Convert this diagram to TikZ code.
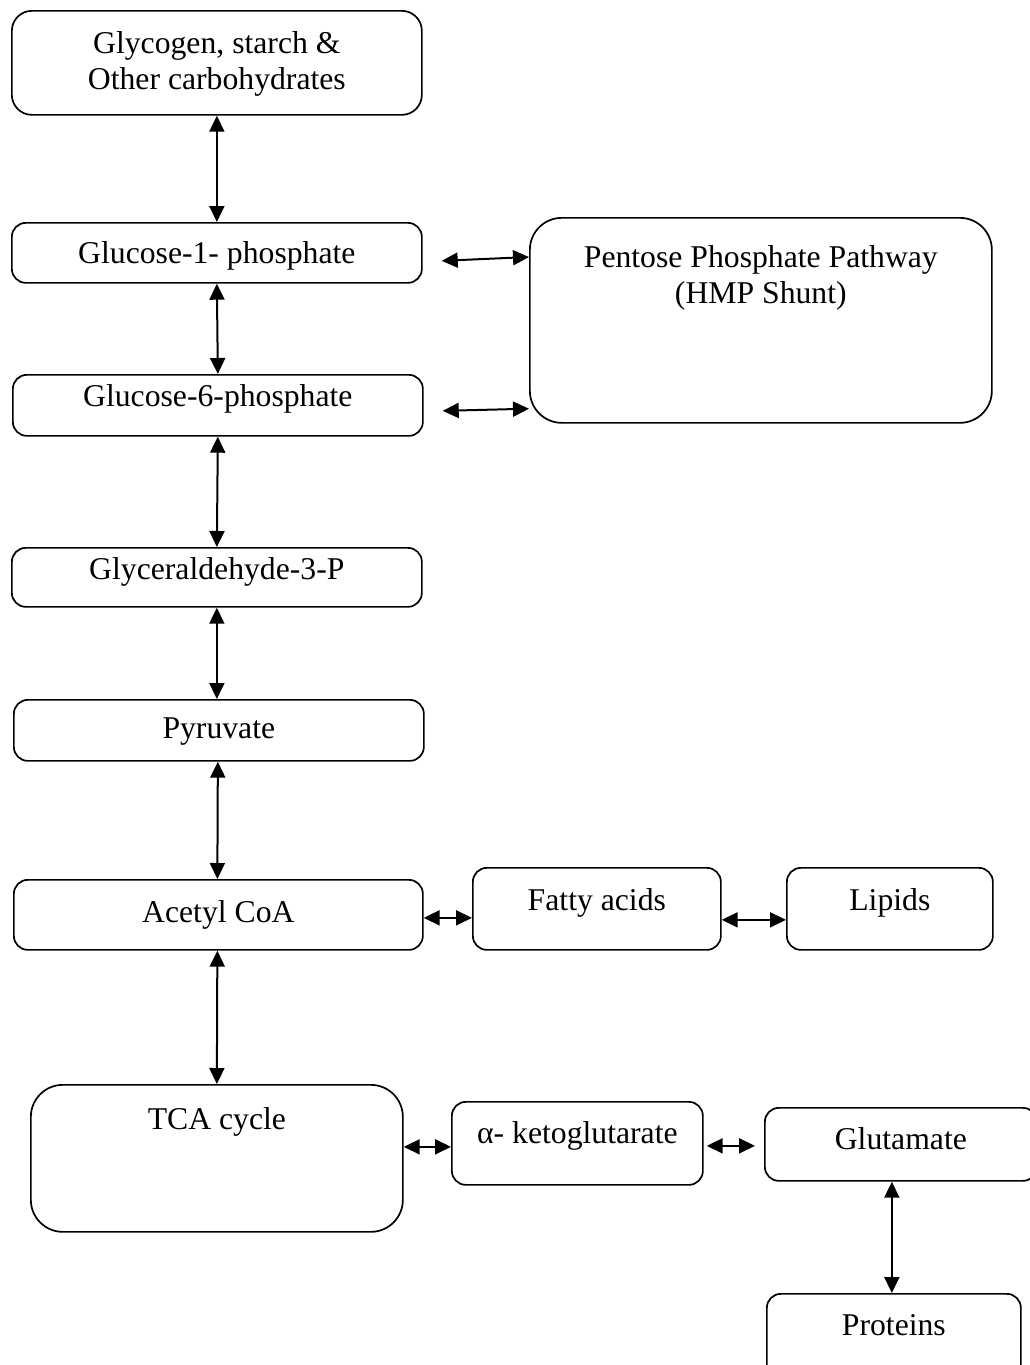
\documentclass[tikz,border=0pt]{standalone}
\usepackage{fontspec}
\setmainfont{Liberation Serif}
\usetikzlibrary{arrows.meta,calc}
\tikzset{
  box/.style={draw, line width=1.7pt, rounded corners=14pt, inner sep=0pt, anchor=north west,
    font=\fontsize{31.7}{36}\selectfont, align=center},
  bigbox/.style={box, rounded corners=32pt},
  link/.style={line width=2pt, {Triangle[length=16pt,width=15pt]}-{Triangle[length=16pt,width=15pt]}}
}
\begin{document}
\begin{tikzpicture}[x=1pt,y=-1pt]
\useasboundingbox[fill=white] (0,0) rectangle (1029,1365);
\node[box, rounded corners=20pt, minimum width=410pt, text height=79pt, text depth=25pt] (glyc) at (11,10) {Glycogen, starch \&\\Other carbohydrates};
\node[box, minimum width=410pt, text height=41pt, text depth=19pt] (g1p) at (11,222) {Glucose-1- phosphate};
\node[bigbox, minimum width=462pt, text height=86pt, text depth=119pt] (ppp) at (529,217) {Pentose Phosphate Pathway\\(HMP Shunt)};
\node[box, minimum width=410pt, text height=32pt, text depth=29pt] (g6p) at (12,374) {Glucose-6-phosphate};
\node[box, minimum width=410pt, text height=32pt, text depth=27pt] (gap) at (11,547) {Glyceraldehyde-3-P};
\node[box, minimum width=410pt, text height=39pt, text depth=22pt] (pyr) at (13,699) {Pyruvate};
\node[box, minimum width=409pt, text height=43pt, text depth=27pt] (acoa) at (13,879) {Acetyl CoA};
\node[box, minimum width=248pt, text height=43pt, text depth=39pt] (fatty) at (472,867) {Fatty acids};
\node[box, minimum width=206pt, text height=43pt, text depth=39pt] (lipids) at (786,867) {Lipids};
\node[bigbox, minimum width=372pt, text height=45pt, text depth=102pt] (tca) at (30,1084) {TCA cycle};
\node[box, minimum width=251pt, text height=42pt, text depth=41pt] (akg) at (451,1101) {α- ketoglutarate};
\node[box, minimum width=272pt, text height=42pt, text depth=31pt] (glu) at (764,1107) {Glutamate};
\node[box, minimum width=254pt, text height=42pt, text depth=65pt] (prot) at (766,1293) {Proteins};

\draw[link] (glyc.south) -- (g1p.north);
\draw[link] (g1p.south) -- (g6p.south |- g6p.north);
\draw[link] (g6p.south) -- (gap.north);
\draw[link] (gap.south) -- (gap.south |- pyr.north);
\draw[link] ($(pyr.south)+(-1,0)$) -- ($(acoa.north)+(-1,0)$);
\draw[link] ($(acoa.south)+(-1,0)$) -- (tca.north);
\draw[link] ($(g1p.east)+(19,8)$) -- ($(ppp.north west)+(0,40)$);
\draw[link] ($(g6p.east)+(19,5.5)$) -- ($(ppp.south west)+(0,-15)$);
\draw[link] ($(acoa.east)+(0,3)$) -- ($(fatty.west)+(0,9)$);
\draw[link] ($(fatty.east)+(0,11)$) -- ($(lipids.west)+(0,11)$);
\draw[link] ($(tca.east)+(0,-11.5)$) -- ($(akg.west)+(0,3.5)$);
\draw[link] ($(akg.east)+(3,2.5)$) -- ($(glu.west)+(-9,1.5)$);
\draw[link] ($(glu.south)+(-9,0)$) -- ($(prot.north)+(-2,0)$);
\end{tikzpicture}
\end{document}
